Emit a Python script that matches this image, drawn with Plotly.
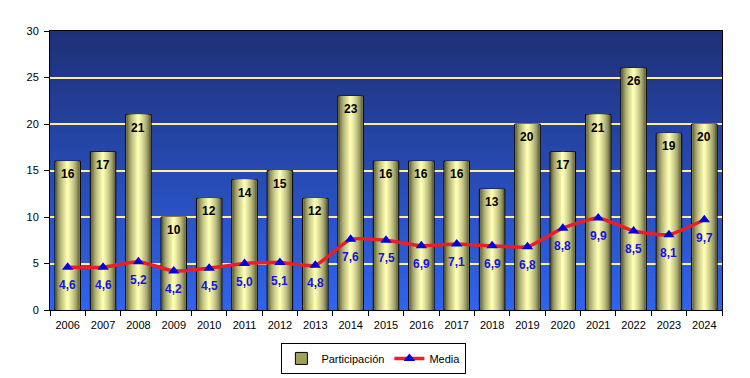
import plotly.graph_objects as go

years = ["2006", "2007", "2008", "2009", "2010", "2011", "2012", "2013", "2014", "2015",
         "2016", "2017", "2018", "2019", "2020", "2021", "2022", "2023", "2024"]
participacion = [16, 17, 21, 10, 12, 14, 15, 12, 23, 16, 16, 16, 13, 20, 17, 21, 26, 19, 20]
media = [4.6, 4.6, 5.2, 4.2, 4.5, 5.0, 5.1, 4.8, 7.6, 7.5, 6.9, 7.1, 6.9, 6.8, 8.8, 9.9, 8.5, 8.1, 9.7]

FONT = "Liberation Sans, Arial, sans-serif"


def lerp(c1, c2, t):
    return "rgb(%d,%d,%d)" % tuple(round(a + (b - a) * t) for a, b in zip(c1, c2))


fig = go.Figure()

# cylinder-like bars: stacked overlay layers getting narrower and lighter
N = 14
W = 0.72
dark = (45, 45, 15)
light = (252, 252, 178)
for k in range(N):
    t = k / (N - 1)
    tt = t ** 0.5
    fig.add_trace(go.Bar(
        x=years, y=participacion,
        width=W * (1 - 0.93 * t),
        marker=dict(color=lerp(dark, light, tt),
                    line=dict(color="black", width=1 if k == 0 else 0)),
        name="Participación", legendgroup="p",
        showlegend=(k == 0), hoverinfo="skip" if k else None,
    ))
fig.data[0].marker.color = "rgb(160,160,90)"

# media line
fig.add_trace(go.Scatter(
    x=years, y=media, mode="lines+markers", name="Media",
    line=dict(color="rgb(235,30,40)", width=3.5, shape="spline", smoothing=0.5),
    marker=dict(symbol="triangle-up", size=10, color="rgb(0,0,220)"),
))

annotations = []
for i, v in enumerate(participacion):
    annotations.append(dict(x=i, y=v, xref="x", yref="y", text=str(v), showarrow=False,
                            yanchor="top", yshift=-4,
                            font=dict(family=FONT, size=12, color="black", weight="bold")))
for i, v in enumerate(media):
    annotations.append(dict(x=i, y=v, xref="x", yref="y", text=("%.1f" % v).replace(".", ","),
                            showarrow=False, yanchor="top", yshift=-9,
                            font=dict(family=FONT, size=12, color="rgb(20,20,220)", weight="bold")))

# background vertical gradient in plot area
shapes = []
NB = 60
top = (30, 48, 118)
bottom = (48, 100, 238)
for i in range(NB):
    y0 = i / NB
    y1 = (i + 1) / NB
    shapes.append(dict(type="rect", xref="paper", yref="paper", x0=0, x1=1, y0=y0, y1=y1 + 0.002,
                       fillcolor=lerp(bottom, top, (i + 0.5) / NB), line=dict(width=0), layer="below"))

fig.update_layout(
    width=750, height=378,
    margin=dict(l=50, r=28, t=31, b=68, autoexpand=False),
    paper_bgcolor="white", plot_bgcolor="rgb(40,80,200)",
    barmode="overlay",
    shapes=shapes,
    annotations=annotations,
    font=dict(family=FONT, size=11, color="black"),
    showlegend=True,
    legend=dict(orientation="h", x=0.482, xanchor="center", y=-0.118, yanchor="top",
                bordercolor="black", borderwidth=1, bgcolor="white",
                font=dict(family=FONT, size=11), itemwidth=30, tracegroupgap=0),
    xaxis=dict(type="category", showline=True, linecolor="black", linewidth=1, mirror=True,
               ticks="outside", ticklen=5, tickcolor="black", tickson="boundaries",
               showgrid=False, range=[-0.5, 18.5], tickfont=dict(size=11), automargin=False,
               ticklabelstandoff=5),
    yaxis=dict(range=[0, 30], dtick=5, showline=True, linecolor="black", linewidth=1, mirror=True,
               ticks="outside", ticklen=5, tickcolor="black", showgrid=True,
               gridcolor="rgb(255,240,150)", gridwidth=1.5, zeroline=False, tickfont=dict(size=11),
               automargin=False, ticklabelstandoff=3),
)

fig.write_html("out.html", config={"displayModeBar": False},
               post_script="document.body.style.margin='0';document.body.style.overflow='hidden';")
